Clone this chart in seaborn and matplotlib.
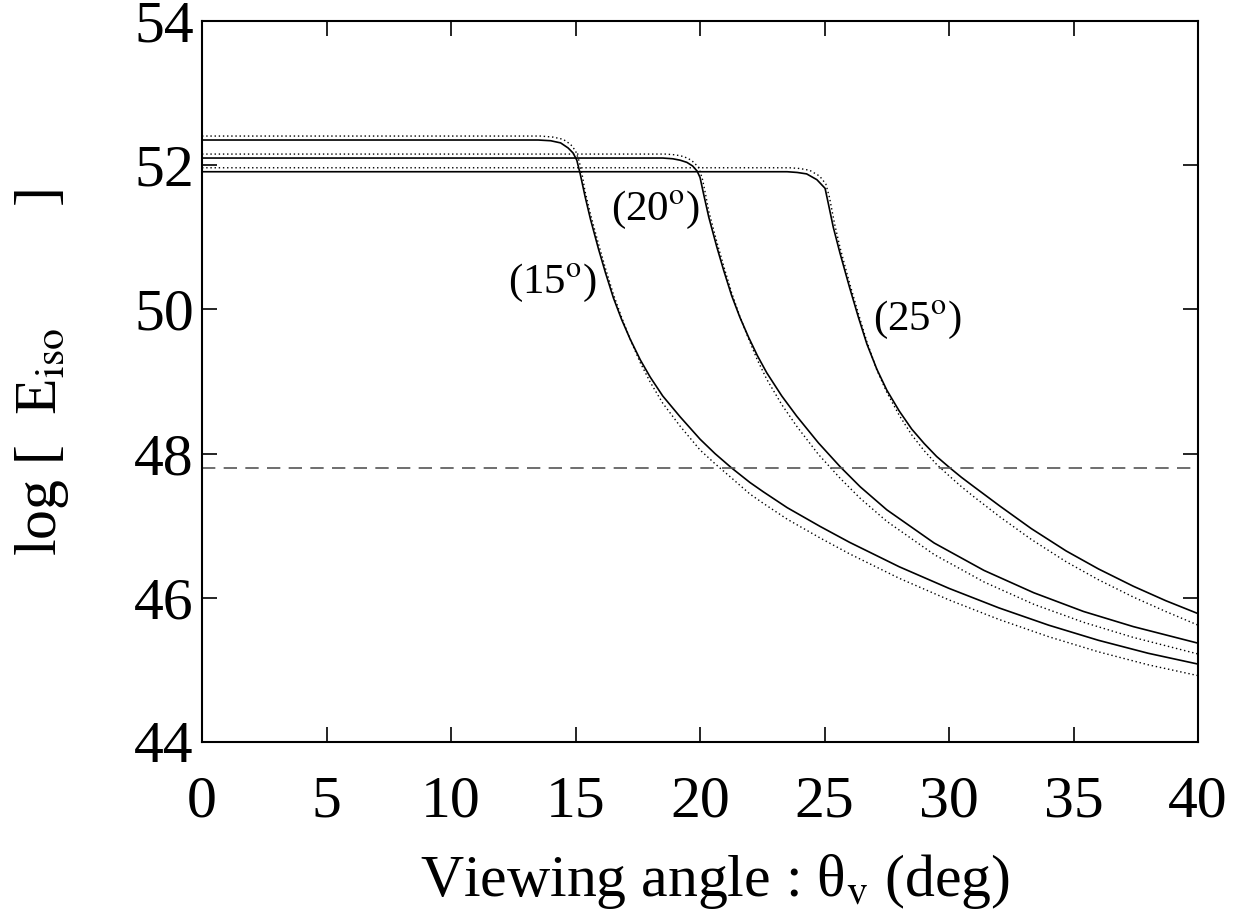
import numpy as np
import pandas as pd
import matplotlib
matplotlib.use("Agg")
import matplotlib.pyplot as plt
import seaborn as sns

# --- data ---
# solid curves (theta_j = 15, 20, 25 deg)
x15 = [0, 13.5, 14.0, 14.4, 14.7, 14.9, 15.05, 15.18, 15.38, 15.6, 15.92, 16.2, 16.52, 16.85,
       17.19, 17.6, 18.0, 18.5, 19.2, 20.0, 20.6, 21.27, 22.0, 22.54, 23.5, 24.82, 26.0,
       28.0, 30.0, 32.0, 34.0, 36.0, 38.0, 40.0]
y15 = [52.35, 52.35, 52.34, 52.31, 52.24, 52.17, 52.07, 51.89, 51.57, 51.25, 50.84, 50.51,
       50.16, 49.86, 49.59, 49.30, 49.06, 48.80, 48.51, 48.20, 48.00, 47.80, 47.60, 47.47,
       47.25, 46.99, 46.77, 46.43, 46.13, 45.86, 45.62, 45.41, 45.23, 45.08]

x20 = [0, 18.5, 18.9, 19.2, 19.47, 19.7, 19.88, 20.0, 20.13, 20.35, 20.67, 20.95, 21.27,
       21.6, 21.94, 22.3, 22.68, 23.28, 23.88, 24.75, 25.62, 26.43, 27.5, 29.4, 31.4, 33.4,
       35.4, 37.4, 40.0]
y20 = [52.10, 52.10, 52.09, 52.07, 52.04, 51.99, 51.92, 51.83, 51.62, 51.28, 50.87, 50.54,
       50.19, 49.89, 49.62, 49.36, 49.12, 48.80, 48.52, 48.15, 47.82, 47.54, 47.22, 46.76,
       46.38, 46.07, 45.81, 45.60, 45.37]

x25 = [0, 23.5, 23.9, 24.28, 24.69, 25.02, 25.15, 25.35, 25.62, 26.0, 26.36, 26.7, 27.1,
       27.5, 28.0, 28.5, 29.0, 29.5, 30.04, 30.5, 31.0, 32.05, 33.3, 34.7, 36.0, 37.4, 38.7,
       40.0]
y25 = [51.91, 51.91, 51.90, 51.88, 51.80, 51.68, 51.47, 51.14, 50.78, 50.31, 49.89, 49.52,
       49.17, 48.88, 48.59, 48.34, 48.14, 47.96, 47.80, 47.67, 47.54, 47.27, 46.96, 46.65,
       46.40, 46.16, 45.96, 45.78]

# dotted curves
x15d = [0, 13.6, 14.1, 14.5, 14.8, 15.0, 15.15, 15.28, 15.38, 15.6, 15.92, 16.2, 16.52,
        16.85, 17.19, 17.6, 18.0, 18.5, 19.2, 20.0, 20.6, 21.27, 22.0, 22.54, 23.5, 24.82,
        26.0, 28.0, 30.0, 32.0, 34.0, 36.0, 38.0, 40.0]
y15d = [52.405, 52.405, 52.39, 52.36, 52.29, 52.20, 52.05, 51.84, 51.64, 51.32, 50.91, 50.57,
        50.21, 49.89, 49.59, 49.26, 48.99, 48.70, 48.38, 48.05, 47.86, 47.66, 47.44, 47.31,
        47.09, 46.83, 46.61, 46.27, 45.97, 45.70, 45.46, 45.25, 45.07, 44.92]

x20d = [0, 18.6, 19.0, 19.35, 19.65, 19.95, 20.1, 20.22, 20.35, 20.67, 20.95, 21.27, 21.6,
        21.94, 22.3, 22.68, 23.28, 23.88, 24.75, 25.62, 26.43, 27.5, 29.4, 31.4, 33.4, 35.4,
        37.4, 40.0]
y20d = [52.155, 52.155, 52.145, 52.12, 52.07, 51.97, 51.80, 51.60, 51.36, 50.94, 50.60, 50.23,
        49.90, 49.60, 49.30, 49.03, 48.68, 48.38, 47.99, 47.66, 47.38, 47.06, 46.60, 46.22,
        45.91, 45.66, 45.45, 45.22]

x25d = [0, 23.6, 24.0, 24.4, 24.8, 25.05, 25.2, 25.4, 25.62, 26.0, 26.36, 26.7, 27.1, 27.5,
        28.0, 28.5, 29.0, 29.5, 30.04, 30.5, 31.0, 32.05, 33.3, 34.7, 36.0, 37.4, 38.7, 40.0]
y25d = [51.965, 51.965, 51.955, 51.93, 51.85, 51.74, 51.55, 51.19, 50.86, 50.37, 49.94, 49.55,
        49.16, 48.85, 48.53, 48.26, 48.04, 47.85, 47.68, 47.54, 47.40, 47.12, 46.81, 46.50,
        46.25, 46.01, 45.81, 45.62]

threshold = 47.8

labels = ["(15$^{\\rm o}$)", "(20$^{\\rm o}$)", "(25$^{\\rm o}$)"]
label_x = [14.1, 18.2, 28.75]
label_y = [50.37, 51.38, 49.85]

sns.set_style("ticks")
plt.rcParams['font.family'] = ['Liberation Serif', 'DejaVu Serif']
plt.rcParams['mathtext.fontset'] = 'stix'
plt.rcParams['text.color'] = 'black'
plt.rcParams['axes.labelcolor'] = 'black'

fig = plt.figure(figsize=(12.48, 9.16), dpi=100)
ax = fig.add_axes([0.1619, 0.190, 0.7981, 0.787])

for xs, ys in [(x15, y15), (x20, y20), (x25, y25)]:
    df = pd.DataFrame({"x": xs, "y": ys})
    sns.lineplot(data=df, x="x", y="y", ax=ax, color="black", lw=1.2,
                 sort=False, estimator=None)

for xs, ys in [(x15d, y15d), (x20d, y20d), (x25d, y25d)]:
    df = pd.DataFrame({"x": xs, "y": ys})
    sns.lineplot(data=df, x="x", y="y", ax=ax, color="black", lw=1.0,
                 linestyle=(0, (1, 2)), sort=False, estimator=None)

ax.axhline(threshold, color="#555555", lw=1.2, linestyle=(0, (8, 5)))

for t, lx, ly in zip(labels, label_x, label_y):
    ax.text(lx, ly, t, fontsize=31, ha="center", va="center", color="black")

ax.set_xlim(0, 40)
ax.set_ylim(44, 54)
ax.set_xticks(np.arange(0, 41, 5))
ax.set_yticks(np.arange(44, 55, 2))
ax.tick_params(direction="in", length=11, width=1.2, top=True, right=True,
               labelsize=43, colors="black")
ax.tick_params(axis="x", pad=24)
ax.tick_params(axis="y", pad=6)
for s in ax.spines.values():
    s.set_linewidth(1.5)
    s.set_color("black")

ax.set_xlabel("Viewing angle : θ$_{\\rm v}$ (deg)", fontsize=43, color="black")
ax.xaxis.set_label_coords(0.515, -0.152)
ax.set_ylabel("log [  E$_{\\rm iso}$        ]", fontsize=43, color="black")
ax.yaxis.set_label_coords(-0.132, 0.513)

fig.savefig("out.png", dpi=100)
